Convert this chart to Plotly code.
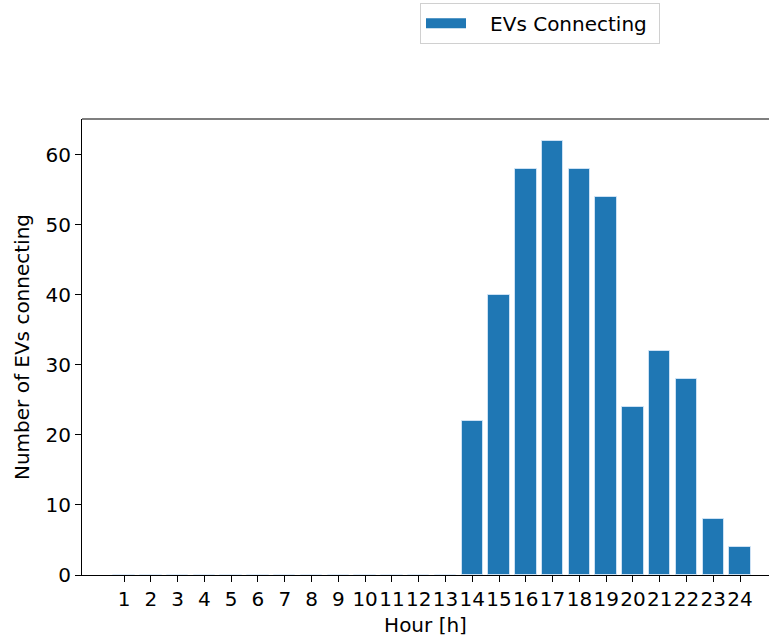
import plotly.graph_objects as go

hours = list(range(1, 25))
ev_counts = [0, 0, 0, 0, 0, 0, 0, 0, 0, 0, 0, 0, 0, 22, 40, 58, 62, 58, 54, 24, 32, 28, 8, 4]
tick_labels = [str(h) for h in hours]
series_name = "EVs Connecting"
bar_color = "#1f77b4"

fig = go.Figure()
fig.add_trace(go.Bar(
    x=hours, y=ev_counts, name=series_name, width=0.8,
    marker=dict(color=bar_color, line=dict(color="rgba(220,235,250,0.8)", width=1)),
    showlegend=False,
))
# legend entry drawn as a wide patch (matplotlib-like)
fig.add_trace(go.Scatter(
    x=[None], y=[None], mode="lines", name="\u00a0\u00a0\u00a0" + series_name + "\u00a0",
    line=dict(color=bar_color, width=13), showlegend=True,
))

font = dict(family="DejaVu Sans", size=20, color="black")
fig.update_layout(
    width=770, height=639,
    margin=dict(l=82, r=1, t=119, b=64),
    plot_bgcolor="white", paper_bgcolor="white",
    font=font,
    bargap=0,
    legend=dict(x=0.492, y=1.255, xanchor="left", yanchor="top",
                bordercolor="#d0d0d0", borderwidth=1, bgcolor="white",
                itemwidth=40,
                font=font),
    xaxis=dict(
        range=[-0.57, 25.08], tickmode="array", tickvals=hours, ticktext=tick_labels,
        tickangle=0,
        ticks="outside", ticklen=6, tickwidth=1.2, tickcolor="black",
        showline=True, linecolor="black", linewidth=1.2, showgrid=False, zeroline=False,
        tickfont=font,
        title=dict(text="Hour [h]", font=font, standoff=7),
    ),
    yaxis=dict(
        range=[0, 65.1], tickvals=[0, 10, 20, 30, 40, 50, 60],
        ticks="outside", ticklen=6, tickwidth=1.2, tickcolor="black",
        showline=True, linecolor="black", linewidth=1.2, showgrid=False, zeroline=False,
        tickfont=font,
        title=dict(text="Number of EVs connecting", font=font, standoff=10),
    ),
    shapes=[dict(type="line", xref="paper", yref="paper", x0=0, x1=1, y0=1, y1=1,
                 line=dict(color="black", width=1.2))],
)

fig.write_html("out.html")
